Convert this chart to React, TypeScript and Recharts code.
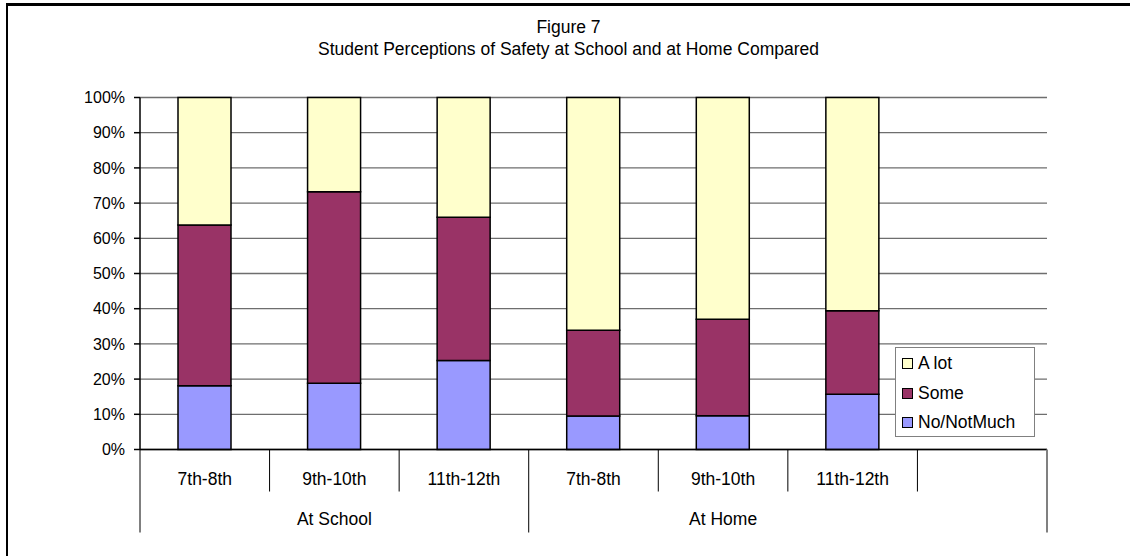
import { BarChart, Bar, XAxis, YAxis, CartesianGrid } from "recharts"

// Survey shares (%) per grade band, bottom segment first
const grades = ["7th-8th", "9th-10th", "11th-12th", "7th-8th", "9th-10th", "11th-12th", ""]
const settings = ["At School", "At Home"]
const settingStarts = [0, 3]
const noNotMuch = [18.1, 18.8, 25.3, 9.5, 9.6, 15.7, null]
const some = [45.7, 54.4, 40.7, 24.4, 27.4, 23.7, null]
const aLot = [36.2, 26.8, 34.0, 66.1, 63.0, 60.6, null]
const yTicks = [0, 10, 20, 30, 40, 50, 60, 70, 80, 90, 100]

const series = [
  { key: "noNotMuch", name: "No/NotMuch", color: "#9999FF" },
  { key: "some", name: "Some", color: "#993366" },
  { key: "aLot", name: "A lot", color: "#FFFFCC" },
]

const data = grades.map((g, i) => ({
  grade: g,
  noNotMuch: noNotMuch[i],
  some: some[i],
  aLot: aLot[i],
}))

const W = 1130
const H = 556
const PLOT_LEFT = 140
const PLOT_RIGHT = 1047
const PLOT_TOP = 97.5
const PLOT_BOTTOM = 449.5
const BAND = (PLOT_RIGHT - PLOT_LEFT) / grades.length
const FONT = "'Liberation Sans', Arial, sans-serif"

function GradeTick(props: any) {
  const { x, y, payload, index } = props
  const left = x - BAND / 2
  const isStart = settingStarts.includes(index)
  const groupIdx = settingStarts.indexOf(index - 1)
  return (
    <g>
      <line x1={left} x2={left} y1={y} y2={y + (isStart ? 83 : 42)} stroke="#000" strokeWidth={1} />
      {index === grades.length - 1 && (
        <line x1={x + BAND / 2} x2={x + BAND / 2} y1={y} y2={y + 83} stroke="#808080" strokeWidth={2} />
      )}
      <text x={x} y={y + 35} textAnchor="middle" fontSize={17.5} fontFamily={FONT} fill="#000">
        {payload.value}
      </text>
      {groupIdx >= 0 && (
        <text x={x} y={y + 75} textAnchor="middle" fontSize={17.5} fontFamily={FONT} fill="#000">
          {settings[groupIdx]}
        </text>
      )}
    </g>
  )
}

function LegendBox() {
  return (
    <div
      style={{
        position: "absolute",
        left: 895,
        top: 347,
        width: 140,
        height: 90,
        boxSizing: "border-box",
        border: "1px solid #808080",
        background: "#fff",
        fontFamily: FONT,
        fontSize: 17.5,
        padding: "1px 0 0 6px",
      }}
    >
      {[...series].reverse().map((s) => (
        <div key={s.key} style={{ display: "flex", alignItems: "center", height: 29.5 }}>
          <span
            style={{
              width: 9,
              height: 9,
              border: "1.5px solid #000",
              background: s.color,
              marginRight: 5,
            }}
          />
          <span>{s.name}</span>
        </div>
      ))}
    </div>
  )
}

export default function App() {
  return (
    <div style={{ position: "absolute", left: 0, top: 0, width: W, height: H, background: "#fff" }}>
      <div
        style={{
          position: "absolute",
          left: 6,
          top: 3,
          right: 0,
          bottom: 0,
          borderTop: "3px solid #000",
          borderLeft: "2.5px solid #000",
        }}
      />
      <div
        style={{
          position: "absolute",
          left: 7,
          right: 0,
          top: 16,
          textAlign: "center",
          fontFamily: FONT,
          fontSize: 17.5,
          lineHeight: "22px",
        }}
      >
        <div>Figure 7</div>
        <div>Student Perceptions of Safety at School and at Home Compared</div>
      </div>
      <div style={{ position: "absolute", left: 0, top: 0 }}>
        <BarChart
          width={W}
          height={H}
          data={data}
          barSize={53}
          margin={{ left: PLOT_LEFT - 70, right: W - PLOT_RIGHT, top: PLOT_TOP, bottom: H - PLOT_BOTTOM - 90 }}
        >
          <CartesianGrid yAxisId="left" horizontal vertical={false} stroke="#6e6e6e" strokeWidth={1.3} />
          <XAxis
            dataKey="grade"
            height={90}
            interval={0}
            tickSize={0}
            tickMargin={0}
            tickLine={false}
            axisLine={{ stroke: "#000", strokeWidth: 1.5 }}
            tick={<GradeTick />}
          />
          <YAxis
            yAxisId="left"
            width={70}
            domain={[0, 100]}
            ticks={yTicks}
            tickFormatter={(v: number) => `${v}%`}
            tickSize={6}
            tickMargin={9}
            axisLine={{ stroke: "#000", strokeWidth: 1.5 }}
            tickLine={{ stroke: "#000", strokeWidth: 1.5 }}
            tick={{ fill: "#000", fontSize: 16, fontFamily: FONT }}
          />
          <YAxis
            yAxisId="right"
            orientation="right"
            width={0}
            domain={[0, 100]}
            tick={false}
            tickLine={false}
            axisLine={{ stroke: "#808080", strokeWidth: 2 }}
          />
          {series.map((s) => (
            <Bar
              key={s.key}
              yAxisId="left"
              dataKey={s.key}
              name={s.name}
              stackId="a"
              fill={s.color}
              stroke="#000"
              strokeWidth={1.5}
              isAnimationActive={false}
            />
          ))}
        </BarChart>
      </div>
      <LegendBox />
    </div>
  )
}
